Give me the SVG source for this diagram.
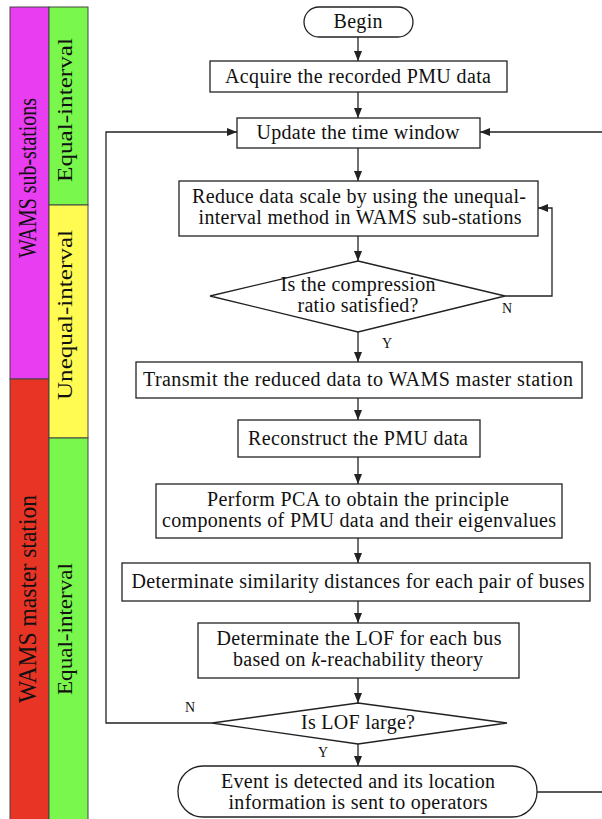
<svg xmlns="http://www.w3.org/2000/svg" width="602" height="819" viewBox="0 0 602 819">
<style>
  .box { fill: #ffffff; stroke: #222; stroke-width: 1.3; }
  .t { font-family: 'Liberation Serif', 'DejaVu Serif', serif; font-size: 20px; fill: #111; text-anchor: middle; }
  .side { font-family: 'Liberation Serif', 'DejaVu Serif', serif; font-size: 22px; fill: #111; text-anchor: middle; }
  .side-big { font-family: 'Liberation Serif', 'DejaVu Serif', serif; font-size: 25px; fill: #111; text-anchor: middle; }
  .yn { font-family: 'Liberation Serif', 'DejaVu Serif', serif; font-size: 14px; fill: #111; }
  .conn { fill: none; stroke: #222; stroke-width: 1.3; }
  .col { stroke: #444; stroke-width: 1; }
</style>
<defs>
  <marker id="arr" markerUnits="userSpaceOnUse" markerWidth="10" markerHeight="8" refX="10" refY="4" orient="auto">
    <path d="M0,0 L10,4 L0,8 Z" fill="#222"/>
  </marker>
</defs>
<rect width="602" height="819" fill="#ffffff"/>

<g id="side-columns">
  <rect class="col" x="10" y="7" width="39" height="372" fill="#E83DF0"/>
  <rect class="col" x="10" y="379" width="39" height="441" fill="#E83424"/>
  <rect class="col" x="49" y="7" width="39" height="198" fill="#7AF74C"/>
  <rect class="col" x="49" y="205" width="39" height="233" fill="#FFFB52"/>
  <rect class="col" x="49" y="438" width="39" height="382" fill="#7AF74C"/>
  <text class="side-big" transform="translate(36,178) rotate(-90)" textLength="160" lengthAdjust="spacingAndGlyphs">WAMS sub-stations</text>
  <text class="side" transform="translate(72,110) rotate(-90)" textLength="144" lengthAdjust="spacingAndGlyphs">Equal-interval</text>
  <text class="side" transform="translate(72,315) rotate(-90)" textLength="170" lengthAdjust="spacingAndGlyphs">Unequal-interval</text>
  <text class="side-big" transform="translate(36,599) rotate(-90)" textLength="208" lengthAdjust="spacingAndGlyphs">WAMS master station</text>
  <text class="side" transform="translate(72,629) rotate(-90)" textLength="132" lengthAdjust="spacingAndGlyphs">Equal-interval</text>
</g>

<g id="connectors">
  <path class="conn" d="M358 37 V61" marker-end="url(#arr)"/>
  <path class="conn" d="M358 92 V118" marker-end="url(#arr)"/>
  <path class="conn" d="M358 148 V181" marker-end="url(#arr)"/>
  <path class="conn" d="M358 236 V261" marker-end="url(#arr)"/>
  <path class="conn" d="M505 296 H552 V208 H538" marker-end="url(#arr)"/>
  <path class="conn" d="M358 332 V362" marker-end="url(#arr)"/>
  <path class="conn" d="M358 398 V420" marker-end="url(#arr)"/>
  <path class="conn" d="M358 457 V484" marker-end="url(#arr)"/>
  <path class="conn" d="M358 538 V563" marker-end="url(#arr)"/>
  <path class="conn" d="M358 601 V623" marker-end="url(#arr)"/>
  <path class="conn" d="M358 678 V703" marker-end="url(#arr)"/>
  <path class="conn" d="M212 723 H106 V132 H237" marker-end="url(#arr)"/>
  <path class="conn" d="M358 744 V766" marker-end="url(#arr)"/>
  <path class="conn" d="M537 792 H602"/>
  <path class="conn" d="M602 132 H480" marker-end="url(#arr)"/>
  <text class="yn" x="502" y="313">N</text>
  <text class="yn" x="382" y="348">Y</text>
  <text class="yn" x="185" y="712">N</text>
  <text class="yn" x="318" y="757">Y</text>
</g>

<g id="begin">
  <rect class="box" x="304" y="7" width="109" height="30" rx="15"/>
  <text class="t" x="358" y="28" textLength="49">Begin</text>
</g>
<g id="acquire">
  <rect class="box" x="210" y="61" width="297" height="31"/>
  <text class="t" x="358" y="83" textLength="266">Acquire the recorded PMU data</text>
</g>
<g id="update">
  <rect class="box" x="237" y="118" width="243" height="30"/>
  <text class="t" x="358" y="139" textLength="203">Update the time window</text>
</g>
<g id="reduce">
  <rect class="box" x="179" y="181" width="359" height="55"/>
  <text class="t" x="359" y="203" textLength="334">Reduce data scale by using the unequal-</text>
  <text class="t" x="360" y="224" textLength="323">interval method in WAMS sub-stations</text>
</g>
<g id="compression-decision">
  <polygon class="box" points="358,261 505,296 358,332 210,296"/>
  <text class="t" x="358" y="291" textLength="155">Is the compression</text>
  <text class="t" x="358" y="312" textLength="121">ratio satisfied?</text>
</g>
<g id="transmit">
  <rect class="box" x="136" y="362" width="446" height="36"/>
  <text class="t" x="358" y="386" textLength="430">Transmit the reduced data to WAMS master station</text>
</g>
<g id="reconstruct">
  <rect class="box" x="238" y="420" width="242" height="37"/>
  <text class="t" x="358" y="445" textLength="220">Reconstruct the PMU data</text>
</g>
<g id="pca">
  <rect class="box" x="156" y="484" width="406" height="54"/>
  <text class="t" x="358" y="506" textLength="302">Perform PCA to obtain the principle</text>
  <text class="t" x="359" y="527" textLength="394">components of PMU data and their eigenvalues</text>
</g>
<g id="similarity">
  <rect class="box" x="122" y="563" width="468" height="38"/>
  <text class="t" x="358" y="588" textLength="453">Determinate similarity distances for each pair of buses</text>
</g>
<g id="lof">
  <rect class="box" x="198" y="623" width="321" height="55"/>
  <text class="t" x="359" y="645" textLength="285">Determinate the LOF for each bus</text>
  <text class="t" x="358" y="666" textLength="250">based on <tspan font-style="italic">k</tspan>-reachability theory</text>
</g>
<g id="lof-decision">
  <polygon class="box" points="358,703 507,723 358,744 212,723"/>
  <text class="t" x="358" y="729" textLength="114">Is LOF large?</text>
</g>
<g id="event">
  <rect class="box" x="178" y="766" width="359" height="51" rx="25"/>
  <text class="t" x="358" y="788" textLength="274">Event is detected and its location</text>
  <text class="t" x="358" y="809" textLength="259">information is sent to operators</text>
</g>
</svg>
